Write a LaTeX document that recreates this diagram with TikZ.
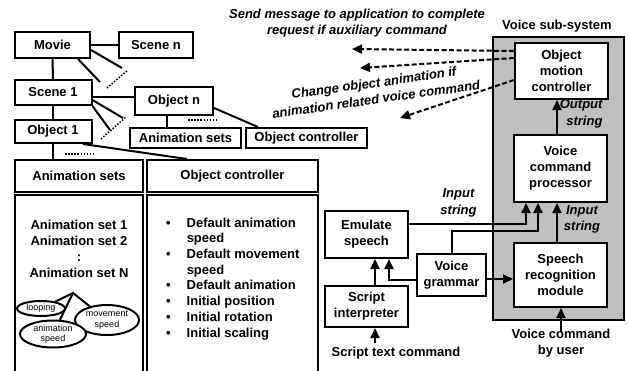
\documentclass[tikz,border=0pt]{standalone}
\usepackage{fontspec}
\setmainfont{Liberation Sans}
\usetikzlibrary{positioning,arrows.meta,calc,shapes.geometric}

\begin{document}
\begin{tikzpicture}[
    x=1pt, y=-1pt,
    every node/.style={font=\bfseries\fontsize{13}{16}\selectfont},
    box/.style={draw, line width=2pt, fill=white, align=center, inner sep=1pt},
    lbl/.style={font=\bfseries\itshape\fontsize{13}{16.5}\selectfont, align=center},
    link/.style={line width=2pt},
    dots/.style={line width=1.5pt, dash pattern=on 1.5pt off 1.6pt},
    arr/.style={link, -{Triangle[length=10pt,width=9pt]}},
    dsh/.style={arr, dash pattern=on 5pt off 2.5pt},
    prop/.style={ellipse, draw, line width=2pt, inner sep=0pt, fill=white, font=\fontsize{9}{10.5}\selectfont, align=center}
  ]
    \useasboundingbox (0,0) rectangle (628,370);

    % movie hierarchy
    \node[box, minimum width=75, minimum height=26] (movie) at (52.5,45) {Movie};
    \node[box, minimum width=74, minimum height=26] (scenen) at (156,45) {Scene n};
    \node[box, minimum width=77, minimum height=25] (scene1) at (53,92.5) {Scene 1};
    \node[box, minimum width=78, minimum height=28] (objn) at (174,101) {Object n};
    \node[box, minimum width=77, minimum height=23] (obj1) at (53,131.5) {Object 1};
    \node[box, minimum width=111, minimum height=20] (anis) at (185.5,138) {Animation sets};
    \node[box, minimum width=121, minimum height=20] (objctrl) at (306.5,138) {Object controller};

    \draw[link] (movie) -- (scenen);
    \draw[link] (movie) -- (scene1);
    \draw[link] ([yshift=-4.5pt]scene1.east) -- ([yshift=-4.5pt]scene1.east -| objn.west);
    \draw[link] (scene1) -- (obj1);
    \draw[link] ([xshift=-7pt]objn.south) -- ([xshift=-7pt]objn.south |- anis.north);
    \draw[link] ([yshift=-7pt]objn.east) -- ([xshift=-48.5pt]objctrl.north);

    \coordinate (mfa) at (122,68);
    \coordinate (mfb) at (100,82);
    \draw[link] ([yshift=-5pt]movie.east) -- (mfa);
    \draw[link] ([xshift=25.5pt]movie.south) -- (mfb);
    \draw[dots] (107,88) -- (128,70);
    \coordinate (sfa) at (123,118);
    \coordinate (sfb) at (110,130);
    \draw[link] ([yshift=-7.5pt]scene1.east) -- (sfa);
    \draw[link] (scene1.south east) -- (sfb);
    \draw[dots] (101,139) -- (126,117);
    \draw[dots] (188,120) -- (217,120);

    % object detail
    \node[box, minimum width=128, minimum height=32] (anihead) at (79,176) {Animation sets};
    \node[box, minimum width=171, minimum height=32] (ctrlhead) at (232.5,176) {Object controller};
    \draw[line width=2pt] (15,380) |- (143,195) -- (143,380);
    \draw[line width=2pt] (147,380) |- (318,195) -- (318,380);
    \draw[link] (obj1.south) -- (obj1.south |- anihead.north);
    \draw[link] ([xshift=30pt]obj1.south) -- ([xshift=-45.5pt]ctrlhead.north);
    \draw[dots] (65,154) -- (93,154);

    \node[align=center] (aslist) at (79,249) {Animation set 1\\Animation set 2\\:\\Animation set N};
    \coordinate (apex) at (73,293);
    \node[prop, minimum width=48, minimum height=15] (loop) at (41,308.5) {looping};
    \node[prop, minimum width=64, minimum height=30] (mvspd) at (107,320) {movement\\speed};
    \node[prop, minimum width=66, minimum height=27] (anspd) at (53,334) {animation\\speed};
    \draw[link] (loop) -- (apex) -- (mvspd);
    \draw[link] (apex) -- (anspd);

    \node[anchor=north west, inner sep=0pt] (ctrllist) at (166,216) {\fontsize{13}{15.7}\selectfont
      \begin{tabular}{@{}l@{\hspace{16pt}}l@{}}
        • & Default animation\\
          & speed\\
        • & Default movement\\
          & speed\\
        • & Default animation\\
        • & Initial position\\
        • & Initial rotation\\
        • & Initial scaling
      \end{tabular}};

    % voice sub-system
    \node (vsslabel) at (557,26) {Voice sub-system};
    \node[draw, line width=2pt, fill=gray!50, minimum width=131, minimum height=283] (vss) at (558.5,178.5) {};
    \node[box, minimum width=93, minimum height=56] (omc) at (561.5,71) {Object\\motion\\controller};
    \node[box, minimum width=93, minimum height=67] (vcp) at (560.5,168.5) {Voice\\command\\processor};
    \node[box, minimum width=93, minimum height=64] (srm) at (560.5,275) {Speech\\recognition\\module};
    \node[box, minimum width=83, minimum height=47] (emu) at (366.5,234.5) {Emulate\\speech};
    \node[box, minimum width=69, minimum height=42] (vg) at (451.5,275) {Voice\\grammar};
    \node[box, minimum width=83, minimum height=41] (scr) at (366.5,306.5) {Script\\interpreter};
    \node (stc) at (396,353) {Script text command};
    \node[align=center] (vcu) at (561,343.5) {Voice command\\by user};

    \draw[arr] ([xshift=-3.5pt]vcp.north) -- ([xshift=-3.5pt]vcp.north |- omc.south);
    \draw[arr] ([xshift=-3.5pt]srm.north) -- ([xshift=-3.5pt]srm.north |- vcp.south);
    \draw[arr] ([yshift=10.5pt]emu.east) -| ([xshift=-34.5pt]vcp.south);
    \draw[arr] (vg.north) -- ++(0,-22) -| ([xshift=-22.5pt]vcp.south);
    \draw[arr] ([yshift=-4pt]vg.east) -- ([yshift=-4pt]vg.east -| srm.west);
    \draw[arr] ([yshift=-5pt]vg.west) -| ([xshift=22.5pt]emu.south);
    \draw[arr] ([xshift=8.5pt]scr.north) -- ([xshift=8.5pt]emu.south);
    \draw[arr] ([xshift=8.5pt]scr.south |- stc.north) -- ([xshift=8.5pt]scr.south);
    \draw[arr] ([yshift=-6pt]vcu.north) -- (vcu.north |- srm.south);

    \node[lbl, anchor=east, align=right] (outlbl) at (606,114) {Output\\string};
    \node[lbl] (inlbla) at (582,219.5) {Input\\string};
    \node[lbl] (inlblb) at (458.5,203) {Input\\string};

    % messages back to the application
    \coordinate (tipa) at (352,49);
    \coordinate (tipb) at (360,68);
    \coordinate (tipc) at (400,118);
    \draw[dsh] ([yshift=20pt]omc.west) -- (tipa);
    \draw[dsh] ([yshift=13pt]omc.west) -- (tipb);
    \draw[dsh] ([yshift=-9pt]omc.west) -- (tipc);
    \node[lbl] (sendmsg) at (357,23) {Send message to application to complete\\request if auxiliary command};
    \node[lbl, rotate=8] (chgmsg) at (375,91) {Change object animation if\\animation related voice command};
  \end{tikzpicture}
\end{document}
